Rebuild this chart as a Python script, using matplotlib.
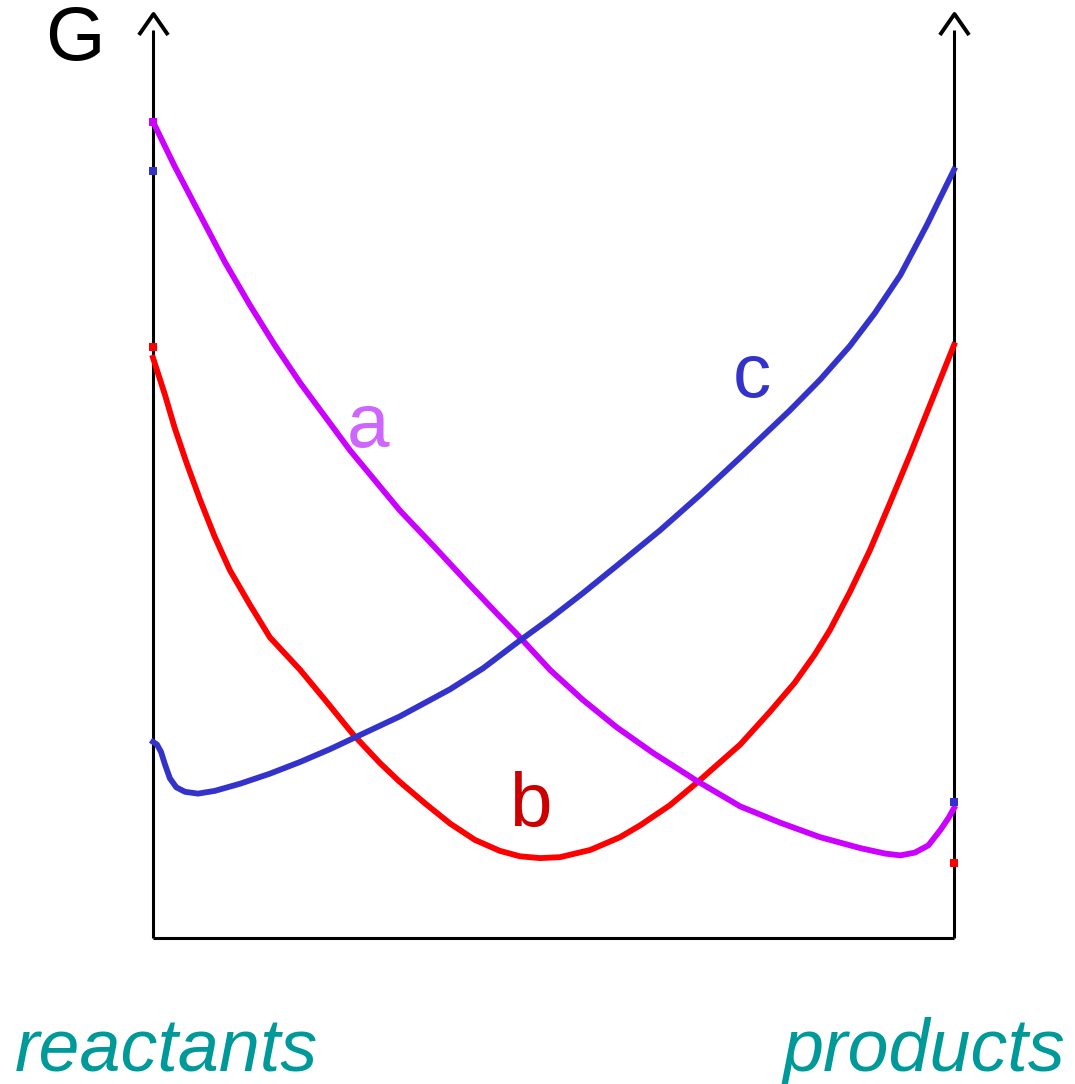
import matplotlib
matplotlib.use("Agg")
import matplotlib.pyplot as plt
from matplotlib.path import Path

plt.rcParams['font.family'] = ['Liberation Sans', 'DejaVu Sans']

# reaction progress (0 = reactants, 1 = products) and free energy G (arbitrary units)
a_x = [0, 0.027, 0.059, 0.090, 0.121, 0.152, 0.184, 0.215, 0.246, 0.277,
       0.308, 0.350, 0.392, 0.433, 0.454, 0.496, 0.537, 0.579, 0.624, 0.679,
       0.733, 0.783, 0.833, 0.883, 0.914, 0.933, 0.951, 0.968, 0.983, 0.993, 1.0]
a_g = [89.9, 85.0, 79.6, 74.4, 69.7, 65.3, 61.1, 57.4, 53.7, 50.4,
       47.1, 43.2, 39.2, 35.4, 33.5, 29.5, 26.2, 23.2, 20.4, 17.3,
       14.5, 12.7, 11.1, 9.9, 9.3, 9.1, 9.4, 10.2, 11.9, 13.2, 14.3]

b_x = [0, 0.015, 0.027, 0.042, 0.059, 0.077, 0.096, 0.121, 0.146, 0.184,
       0.215, 0.250, 0.283, 0.308, 0.340, 0.371, 0.402, 0.433, 0.458, 0.483,
       0.508, 0.546, 0.583, 0.608, 0.645, 0.679, 0.733, 0.770, 0.801, 0.826,
       0.845, 0.870, 0.895, 0.920, 0.945, 0.970, 1.0]
b_g = [63.9, 59.8, 56.2, 52.3, 48.2, 44.2, 40.5, 36.7, 33.1, 29.5,
       26.2, 22.4, 19.3, 17.2, 14.8, 12.6, 10.8, 9.6, 9.0, 8.8,
       8.9, 9.7, 11.1, 12.4, 14.6, 17.1, 21.3, 24.9, 28.1, 31.2,
       33.9, 38.1, 42.7, 47.9, 53.2, 58.7, 65.3]

c_x = [0, 0.005, 0.010, 0.015, 0.021, 0.029, 0.040, 0.056, 0.077, 0.109,
       0.146, 0.184, 0.221, 0.250, 0.308, 0.371, 0.412, 0.454, 0.496, 0.537,
       0.579, 0.633, 0.683, 0.733, 0.795, 0.833, 0.870, 0.901, 0.933, 0.966, 1.0]
c_g = [21.6, 21.3, 20.5, 19.1, 17.6, 16.6, 16.1, 15.9, 16.2, 17.0,
       18.1, 19.4, 20.8, 22.0, 24.4, 27.4, 29.7, 32.5, 35.2, 38.0,
       41.0, 44.9, 48.8, 52.9, 58.1, 61.5, 65.2, 68.8, 73.0, 78.5, 84.6]

# small marks on the two axes
left_marks = [89.9, 84.5, 65.1]
left_colors = ['#cc00ff', '#3333cc', '#ff0000']
right_marks = [15.0, 8.3]
right_colors = ['#3333cc', '#ff0000']

fig = plt.figure(figsize=(10.75, 10.84), dpi=100)
ax = fig.add_axes([0, 0, 1, 1])
ax.set_xlim(-153 / 801, (1075 - 153) / 801)
ax.set_ylim(-146 / 9.08, (1084 - 146) / 9.08)
ax.axis('off')

# axes frame
ax.plot([0, 0], [0, 100], color='black', lw=2.2, solid_capstyle='butt')
ax.plot([1, 1], [0, 100], color='black', lw=2.2, solid_capstyle='butt')
ax.plot([0, 1], [0, 0], color='black', lw=2.2, solid_capstyle='butt')
chevron = Path([(-1, -0.72), (0, 0.72), (1, -0.72)],
               [Path.MOVETO, Path.LINETO, Path.LINETO])
ax.plot([0, 1], [100.7, 100.7], ls='none', marker=chevron, markersize=21,
        markeredgecolor='black', markeredgewidth=2.8, fillstyle='none')

# curves
ax.plot(b_x, b_g, color='#ff0000', lw=4.2, solid_joinstyle='round')
ax.plot(a_x, a_g, color='#cc00ff', lw=4.2, solid_joinstyle='round')
ax.plot(c_x, c_g, color='#3333cc', lw=4.2, solid_joinstyle='round')

for g, col in zip(left_marks, left_colors):
    ax.plot(0, g, marker='s', markersize=6, color=col, markeredgewidth=0)
for g, col in zip(right_marks, right_colors):
    ax.plot(1, g, marker='s', markersize=6, color=col, markeredgewidth=0)

# labels
ax.text(-0.098, 98.8, 'G', fontsize=55, color='black', ha='center', va='center')
ax.text(0.268, 56.2, 'a', fontsize=55, color='#cc66ff', ha='center', va='center')
ax.text(0.471, 14.5, 'b', fontsize=55, color='#cc0000', ha='center', va='center')
ax.text(0.748, 61.7, 'c', fontsize=55, color='#3333cc', ha='center', va='center')

fig.text(15 / 1075, 13 / 1084, 'reactants', fontsize=53, style='italic',
         color='#009999', ha='left', va='baseline')
fig.text(1066 / 1075, 13 / 1084, 'products', fontsize=53, style='italic',
         color='#009999', ha='right', va='baseline')

fig.savefig('out.png', dpi=100)
